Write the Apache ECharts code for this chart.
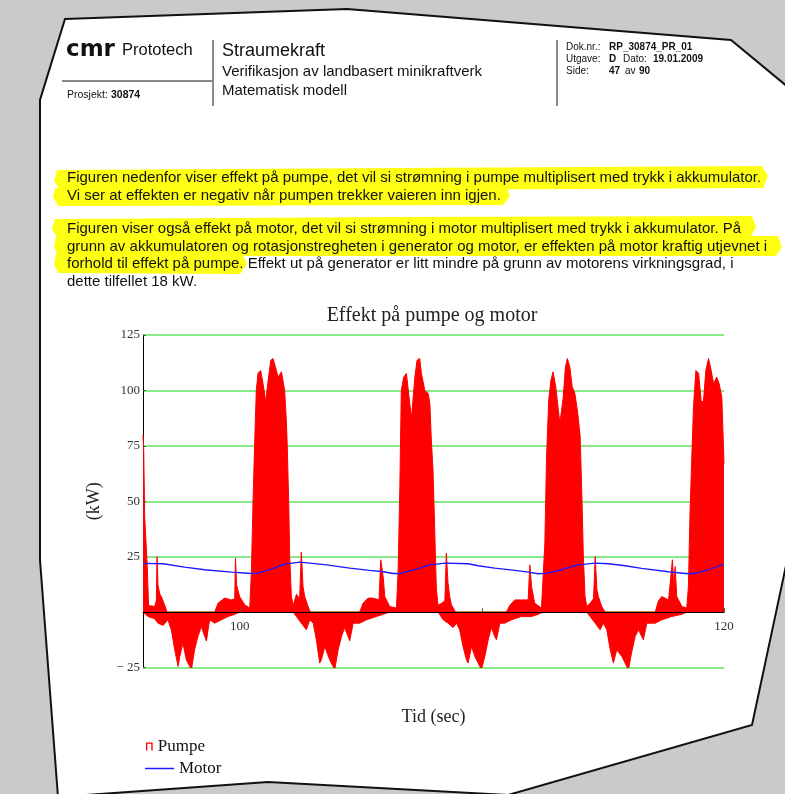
<!DOCTYPE html>
<html><head><meta charset="utf-8">
<script src="https://cdn.jsdelivr.net/npm/echarts@6/dist/echarts.min.js"></script>
<style>html,body{margin:0;padding:0;background:#cacaca}#c{width:785px;height:794px}</style>
</head><body><div id="c"></div>
<script>
// ---- data ----
const tittel = 'Effekt på pumpe og motor';
const xNavn = 'Tid (sec)';
const yNavn = '(kW)';
const xTickVerdier = [100, 110, 120];
const xEtiketter = [100, 120];
const yMin = -25, yMax = 125, yStep = 25;
const xMin = 96, xMax = 120;

// Pumpe: upper envelope [tid, kW]
const pumpeTopp = [
[96.00,80],[96.03,73],[96.07,43],[96.17,22],[96.23,3],[96.48,2.5],[96.55,5],[96.58,25],[96.62,12],[96.70,8],[96.76,7],[96.90,3],[96.99,0],
[98.96,0],[99.10,4],[99.37,6.3],[99.65,5.5],[99.79,6],[99.82,24.3],[99.87,12],[99.99,7],[100.20,3.3],[100.41,1.8],
[100.48,19],[100.55,52],[100.61,75],[100.68,100],[100.75,107.7],[100.86,109],[100.96,103],[101.07,95],[101.17,104.6],[101.28,113.6],[101.37,114.4],[101.47,110.6],[101.58,106],[101.72,108.4],[101.85,100],[101.92,86.6],[101.96,74.6],[102.02,49],[102.06,25],[102.13,7],[102.20,3],
[102.34,8],[102.47,6],[102.54,27],[102.61,11.5],[102.68,7],[102.82,2.5],[102.91,0],
[104.95,0],[105.09,4],[105.30,6.3],[105.50,6.3],[105.75,5.5],[105.82,23.6],[105.92,16],[105.99,7],[106.19,2.5],[106.47,1.8],
[106.54,19],[106.61,56.6],[106.67,100],[106.77,106],[106.88,107.7],[106.99,97],[107.09,87.4],[107.23,106],[107.32,113.6],[107.43,114.4],[107.50,107.7],[107.64,100],[107.78,98.6],[107.85,94],[107.91,77.6],[107.98,64],[108.02,49],[108.08,25],[108.12,10],[108.19,3],
[108.33,4],[108.47,5],[108.53,26.6],[108.60,13],[108.67,7],[108.74,3.3],[108.91,0],
[111.01,0],[111.15,3],[111.36,5.5],[111.63,5.5],[111.91,5.5],[111.98,21.3],[112.05,11.5],[112.18,4],[112.46,1.8],
[112.60,31],[112.67,70],[112.76,95.6],[112.85,104.6],[112.94,108.4],[113.05,101.6],[113.22,85],[113.36,97],[113.45,110.6],[113.53,114.4],[113.63,110.6],[113.73,101.6],[113.84,98.6],[113.96,89.6],[114.06,79],[114.13,52],[114.19,25],[114.26,7],[114.33,2.5],
[114.47,4],[114.61,6],[114.68,25],[114.75,10],[114.81,7],[114.95,2.5],[115.09,0],
[117.16,0],[117.29,5],[117.43,7],[117.71,5.5],[117.87,23.6],[117.93,10],[117.98,20.5],[118.05,7],[118.26,2.5],[118.46,1.8],
[118.53,11.5],[118.60,46],[118.67,70],[118.74,92.6],[118.84,109],[118.95,107.7],[119.06,95],[119.15,95],[119.25,109],[119.36,114.4],[119.47,109],[119.57,103],[119.70,106],[119.80,103],[119.91,97],[120.00,67]
];

// Pumpe: lower envelope [tid, kW]
const pumpeBunn = [
[96.00,0],[96.21,-2],[96.48,-3],[96.62,-5],[96.83,-6],[97.03,-3.5],[97.17,-8],[97.31,-17],[97.45,-24.5],[97.52,-20],[97.65,-14],[97.79,-21.5],[98.00,-26],[98.13,-17],[98.27,-11],[98.41,-6.5],[98.55,-11],[98.62,-13],[98.75,-3.5],[98.96,-5],[99.24,-3.5],[99.51,-2],[99.79,-1],[99.99,0],
[102.20,0],[102.34,-2],[102.54,-5],[102.75,-8],[102.89,-3.5],[103.03,-5],[103.16,-12.5],[103.30,-23],[103.37,-21.5],[103.51,-15.5],[103.71,-21.5],[103.92,-26],[104.06,-17],[104.20,-11],[104.33,-7],[104.47,-11],[104.54,-13],[104.68,-5],[104.95,-5],[105.23,-3.5],[105.64,-2],[105.92,-1],[106.19,0],
[108.19,0],[108.40,-3.5],[108.60,-5],[108.81,-7],[108.95,-5],[109.08,-8],[109.22,-15.5],[109.36,-21.5],[109.43,-23],[109.57,-15.5],[109.71,-20],[109.98,-26],[110.12,-20],[110.26,-12.5],[110.39,-7],[110.53,-11],[110.60,-12.5],[110.74,-5],[110.94,-5],[111.22,-3.5],[111.63,-2],[112.05,-2],[112.32,-1],[112.53,0],
[114.33,0],[114.47,-2],[114.68,-5],[114.88,-8],[115.02,-5],[115.16,-8],[115.30,-17],[115.43,-23],[115.57,-17],[115.78,-20],[116.05,-26],[116.19,-18],[116.33,-11],[116.47,-8],[116.60,-11],[116.67,-12.5],[116.81,-5],[117.16,-5],[117.43,-3.5],[117.84,-2],[118.26,-1],[118.46,0],[120.00,0]
];

// Motor [tid, kW]
const motor = [
[96.0,22.0],[96.83,21.8],[97.72,20.3],[98.55,19.1],[99.65,18.0],[100.48,17.4],[100.75,17.6],[101.3,19.4],[101.85,21.6],[102.47,22.5],[102.89,22.1],[103.58,21.3],[104.54,19.8],[105.36,18.8],[105.92,18.2],[106.33,17.4],[106.61,17.4],[107.29,19.4],[107.84,21.3],[108.47,22.1],[109.43,21.8],[109.84,20.9],[110.53,19.8],[111.36,18.8],[111.91,18.0],[112.32,17.3],[112.74,17.6],[113.29,19.1],[113.97,21.3],[114.68,22.1],[115.23,21.8],[115.92,20.9],[116.6,19.7],[117.71,18.2],[118.4,17.4],[118.81,17.4],[119.36,19.1],[120.0,21.6]
];

// document text
const avsnitt = [
 'Figuren nedenfor viser effekt på pumpe, det vil si strømning i pumpe multiplisert med trykk i akkumulator.',
 'Vi ser at effekten er negativ når pumpen trekker vaieren inn igjen.',
 'Figuren viser også effekt på motor, det vil si strømning i motor multiplisert med trykk i akkumulator. På',
 'grunn av akkumulatoren og rotasjonstregheten i generator og motor, er effekten på motor kraftig utjevnet i',
 'forhold til effekt på pumpe. Effekt ut på generator er litt mindre på grunn av motorens virkningsgrad, i',
 'dette tilfellet 18 kW.'
];

// ---- layout / decoration ----
const SANS = '"Liberation Sans", Arial, sans-serif';
const SERIF = '"Liberation Serif", "Times New Roman", serif';
const avsnittY = [178, 195.5, 229, 246.5, 264, 281.5];

function txt(x, y, s, font) {
  return {type:'text', x:x, y:y, z:100, silent:true,
    style:{text:s, font:font, fill:'#111', textVerticalAlign:'middle', textAlign:'left'}};
}
const elements = [
  {type:'polygon', z:-100, silent:true, shape:{points:[[65,19],[347,9],[731,40],[800,97],[800,500],[752,725],[508,795],[268,782],[58,797],[40,560],[40,100]]},
   style:{fill:'#ffffff', stroke:'#111', lineWidth:2}},
  // highlighter marks
  {type:'polygon', z:-90, silent:true, shape:{points:[[57,170],[400,168],[762,166],[768,176],[763,188],[400,190],[60,190],[54,181]]}, style:{fill:'#ffff14'}},
  {type:'polygon', z:-90, silent:true, shape:{points:[[55,188],[300,187],[506,186],[510,196],[503,205],[58,206],[53,197]]}, style:{fill:'#ffff14'}},
  {type:'polygon', z:-90, silent:true, shape:{points:[[55,219],[400,217],[752,216],[756,227],[750,238],[58,239],[52,229]]}, style:{fill:'#ffff14'}},
  {type:'polygon', z:-90, silent:true, shape:{points:[[56,237],[400,236],[778,236],[782,247],[776,256],[58,256],[54,247]]}, style:{fill:'#ffff14'}},
  {type:'polygon', z:-90, silent:true, shape:{points:[[56,254],[242,254],[247,264],[240,274],[58,273],[54,264]]}, style:{fill:'#ffff14'}},
  // header rules
  {type:'line', z:-80, silent:true, shape:{x1:62,y1:81,x2:213,y2:81}, style:{stroke:'#8a8a8a', lineWidth:2}},
  {type:'line', z:-80, silent:true, shape:{x1:213,y1:40,x2:213,y2:106}, style:{stroke:'#8a8a8a', lineWidth:2}},
  {type:'line', z:-80, silent:true, shape:{x1:557,y1:40,x2:557,y2:106}, style:{stroke:'#8a8a8a', lineWidth:2}},
  txt(66, 50, 'cmr', 'bold 23px "DejaVu Sans", sans-serif'),
  txt(122, 50, 'Prototech', '16.5px ' + SANS),
  txt(67, 95, 'Prosjekt:', '10.5px ' + SANS),
  txt(111, 95, '30874', 'bold 10.5px ' + SANS),
  txt(222, 51, 'Straumekraft', '18px ' + SANS),
  txt(222, 72, 'Verifikasjon av landbasert minikraftverk', '15px ' + SANS),
  txt(222, 91, 'Matematisk modell', '15px ' + SANS),
  txt(566, 47, 'Dok.nr.:', '10px ' + SANS),
  txt(609, 47, 'RP_30874_PR_01', 'bold 10px ' + SANS),
  txt(566, 59, 'Utgave:', '10px ' + SANS),
  txt(609, 59, 'D', 'bold 10px ' + SANS),
  txt(623, 59, 'Dato:', '10px ' + SANS),
  txt(653, 59, '19.01.2009', 'bold 10px ' + SANS),
  txt(566, 71, 'Side:', '10px ' + SANS),
  txt(609, 71, '47', 'bold 10px ' + SANS),
  txt(625, 71, 'av', '10px ' + SANS),
  txt(639, 71, '90', 'bold 10px ' + SANS)
];
avsnitt.forEach((s, i) => elements.push(txt(67, avsnittY[i], s, '15px ' + SANS)));

const chart = echarts.init(document.getElementById('c'), null, {renderer:'canvas'});
chart.setOption({
  animation: false,
  backgroundColor: '#cacaca',
  graphic: {elements: elements},
  title: {text: tittel, left: 432, top: 306, textAlign: 'center', padding: 0,
    textStyle: {fontFamily: SERIF, fontSize: 20, fontWeight: 'normal', color: '#222'}},
  legend: [
    {data: [{name: 'Pumpe', icon: 'path://M0,0H10V12H8V2H2V12H0Z'}], left: 146, top: 738, padding: 0,
     itemWidth: 7, itemHeight: 8, textStyle: {fontFamily: SERIF, fontSize: 17, color: '#111'}},
    {data: [{name: 'Motor', icon: 'rect'}], left: 145, top: 760, padding: 0,
     itemWidth: 29, itemHeight: 1.5, textStyle: {fontFamily: SERIF, fontSize: 17, color: '#111'}}
  ],
  grid: {left: 143, right: 61, top: 335, bottom: 126.5, containLabel: false},
  xAxis: {
    type: 'value', min: xMin, max: xMax, z: 10, offset: -55.4,
    axisLine: {onZero: false, lineStyle: {color: '#000', width: 1.2}},
    axisTick: {show: true, inside: true, length: 4, customValues: xTickVerdier, lineStyle: {color: '#555'}},
    axisLabel: {customValues: xEtiketter, margin: 8, fontFamily: SERIF, fontSize: 13, color: '#333'},
    splitLine: {show: false},
    name: xNavn, nameLocation: 'middle', nameGap: 96,
    nameTextStyle: {fontFamily: SERIF, fontSize: 18, color: '#222'}
  },
  yAxis: {
    type: 'value', min: yMin, max: yMax, interval: yStep,
    axisLine: {show: true, onZero: false, lineStyle: {color: '#000', width: 1}},
    axisTick: {show: true, inside: true, length: 3, lineStyle: {color: '#555'}},
    axisLabel: {margin: 3, fontFamily: SERIF, fontSize: 13, color: '#333',
      formatter: v => v === 0 ? '' : (v < 0 ? '\u2212 ' + Math.abs(v) : String(v))},
    splitLine: {show: true, lineStyle: {color: '#62e262', width: 1.5}},
    name: yNavn, nameLocation: 'middle', nameGap: 40, nameRotate: 90,
    nameTextStyle: {fontFamily: SERIF, fontSize: 18, color: '#222'}
  },
  series: [
    {name: 'Pumpe', type: 'line', data: pumpeTopp, showSymbol: false, symbol: 'none', z: 2,
     color: '#ff0000', lineStyle: {color: '#ff0000', width: 1}, areaStyle: {color: '#ff0000', opacity: 1}},
    {name: 'Pumpe', type: 'line', data: pumpeBunn, showSymbol: false, symbol: 'none', z: 2,
     color: '#ff0000', lineStyle: {color: '#ff0000', width: 1}, areaStyle: {color: '#ff0000', opacity: 1}},
    {name: 'Motor', type: 'line', data: motor, showSymbol: false, symbol: 'none', z: 4,
     color: '#1a1aff', lineStyle: {color: '#1a1aff', width: 1.3}}
  ]
});
</script>
</body></html>
